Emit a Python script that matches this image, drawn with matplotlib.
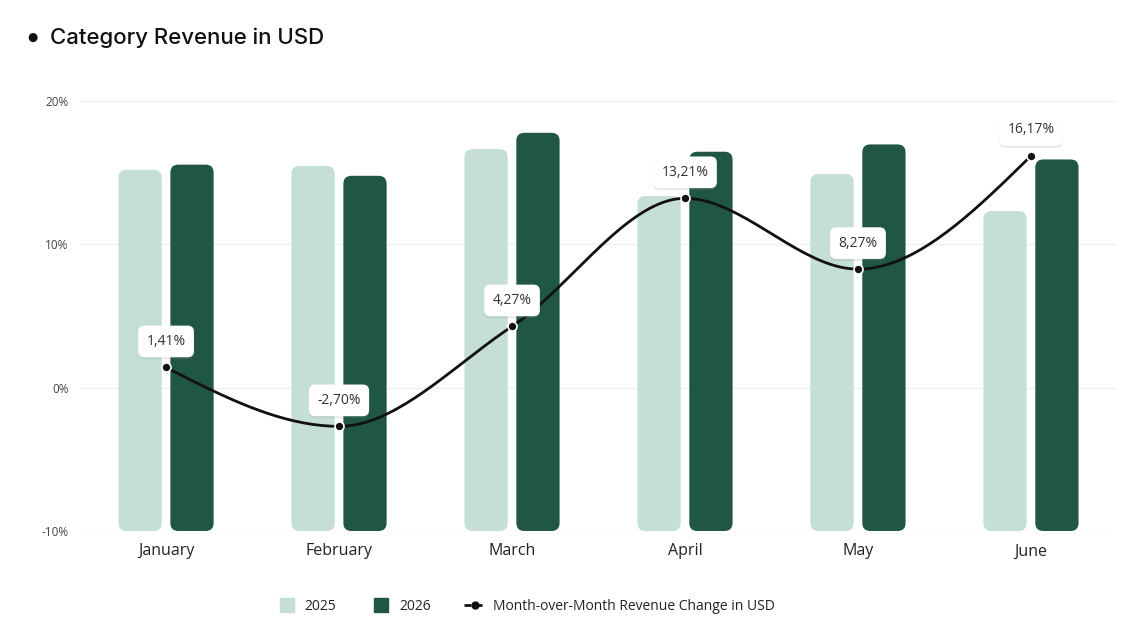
import numpy as np
import matplotlib
matplotlib.use("Agg")
import matplotlib.pyplot as plt
from matplotlib.patches import FancyBboxPatch
from matplotlib.lines import Line2D
import matplotlib.patheffects as pe

months = ["January", "February", "March", "April", "May", "June"]
rev_2025 = [84.0, 84.9, 88.8, 77.9, 83.0, 74.4]
rev_2026 = [85.2, 82.6, 92.6, 88.2, 89.9, 86.4]
mom_change = [1.41, -2.70, 4.27, 13.21, 8.27, 16.17]

c_light = "#c5dfd6"
c_dark = "#205744"
c_line = "#111111"

plt.rcParams['font.family'] = ['Open Sans', 'DejaVu Sans']


def monotone_x(xs, ys, n=40):
    # monotone cubic (same idea as d3 curveMonotoneX), only for drawing the curve
    xs = np.asarray(xs, float)
    ys = np.asarray(ys, float)
    h = np.diff(xs)
    s = np.diff(ys) / h
    t = np.zeros(len(xs))
    for i in range(1, len(xs) - 1):
        p = (s[i - 1] * h[i] + s[i] * h[i - 1]) / (h[i - 1] + h[i])
        t[i] = (np.sign(s[i - 1]) + np.sign(s[i])) * min(abs(s[i - 1]), abs(s[i]), 0.5 * abs(p))
    t[0] = (3 * s[0] - t[1]) / 2
    t[-1] = (3 * s[-1] - t[-2]) / 2
    px, py = [], []
    u = np.linspace(0, 1, n)
    for i in range(len(xs) - 1):
        dx = h[i] / 3
        x0, x1, x2, x3 = xs[i], xs[i] + dx, xs[i + 1] - dx, xs[i + 1]
        y0, y1, y2, y3 = ys[i], ys[i] + dx * t[i], ys[i + 1] - dx * t[i + 1], ys[i + 1]
        b = [(1 - u) ** 3, 3 * u * (1 - u) ** 2, 3 * u ** 2 * (1 - u), u ** 3]
        px.extend(b[0] * x0 + b[1] * x1 + b[2] * x2 + b[3] * x3)
        py.extend(b[0] * y0 + b[1] * y1 + b[2] * y2 + b[3] * y3)
    return np.array(px), np.array(py)


fig = plt.figure(figsize=(11.48, 6.23), dpi=100)
ax = fig.add_axes([0.0693, 0.1477, 0.9041, 0.6902])
x = np.arange(len(months))

# percent axis: ticks and grid
ax.set_xlim(-0.5, len(months) - 0.5)
ax.set_ylim(-10, 20)
ax.set_yticks([-10, 0, 10, 20])
ax.set_yticklabels(["-10%", "0%", "10%", "20%"])
ax.grid(axis='y', color="#edf1ed", lw=1)
ax.set_xticks(x)
ax.set_xticklabels(months)
ax.tick_params(axis='y', length=0, pad=8, labelsize=8.5, labelcolor="#444444")
ax.tick_params(axis='x', length=0, pad=9, labelsize=11.5, labelcolor="#222222")
for sp in ax.spines.values():
    sp.set_visible(False)

# bars on a hidden revenue axis
ax2 = ax.twinx()
ax2.set_ylim(0, 100)
ax2.set_xlim(-0.5, len(months) - 0.5)
ax2.axis('off')
bw = 0.25
px_x = 173.0
px_y = 4.3
r = 8.0
for vals, off, col in [(rev_2025, -0.15, c_light), (rev_2026, 0.15, c_dark)]:
    for xi, v in zip(x, vals):
        p = FancyBboxPatch((xi + off - bw / 2, 0), bw, v,
                           boxstyle="round,pad=0,rounding_size=%f" % (r / px_x),
                           mutation_aspect=(px_x / px_y),
                           fc=col, ec='none', lw=0)
        ax2.add_patch(p)

# month-over-month line
ax3 = ax.twinx()
ax3.set_ylim(-10, 20)
ax3.set_xlim(-0.5, len(months) - 0.5)
ax3.axis('off')
cx, cy = monotone_x(x, mom_change)
ax3.plot(cx, cy, color=c_line, lw=2.0, solid_capstyle='round', zorder=3)
ax3.plot(x, mom_change, 'o', ms=6.5, mfc=c_line, mec='white', mew=1.2, zorder=4)
for xi, v in zip(x, mom_change):
    lbl = ("%.2f" % v).replace('.', ',') + "%"
    t = ax3.annotate(lbl, (xi, v), xytext=(0, 26), textcoords='offset pixels',
                     ha='center', va='center', fontsize=10, color="#333333", zorder=5,
                     bbox=dict(boxstyle="round,pad=0.6,rounding_size=0.45",
                               fc='white', ec='none'))
    t.get_bbox_patch().set_path_effects([
        pe.SimplePatchShadow(offset=(0, -1.5), shadow_rgbFace='#888888', alpha=0.18),
        pe.Normal()])

# title
fig.text(0.024, 0.94, "\u25cf", fontsize=8.5, va='center', ha='left', color="#111111",
         family=['DejaVu Sans'])
fig.text(0.0435, 0.94, "Category Revenue in USD", fontsize=16, va='center', ha='left',
         color="#111111", fontweight='medium', family=['Inter', 'DejaVu Sans'])

# legend
handles = [
    Line2D([], [], ls='none', marker='s', ms=9.5, mfc=c_light, mec=c_light),
    Line2D([], [], ls='none', marker='s', ms=9.5, mfc=c_dark, mec=c_dark),
    Line2D([], [], color=c_line, lw=2, dashes=(2.5, 1.5), marker='o', ms=5),
]
leg = fig.legend(handles, ["2025", "2026", "Month-over-Month Revenue Change in USD"],
                 loc='center', bbox_to_anchor=(0.4575, 0.027), ncol=3, frameon=False,
                 fontsize=10, handlelength=1.6, handletextpad=0.5, columnspacing=2.4)
for txt in leg.get_texts():
    txt.set_color("#222222")

fig.savefig("out.png", dpi=100)
